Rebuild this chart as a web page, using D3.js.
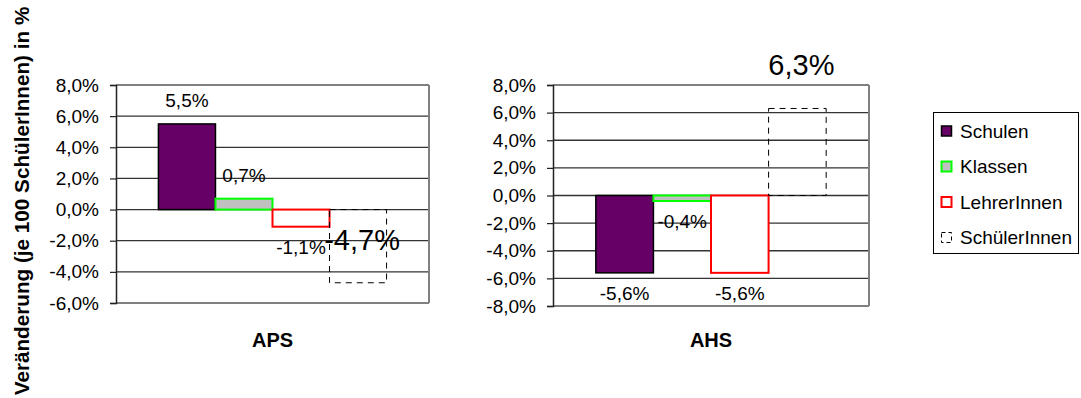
<!DOCTYPE html>
<html><head><meta charset="utf-8">
<script src="https://cdn.jsdelivr.net/npm/d3@7/dist/d3.min.js"></script>
<style>
body{margin:0;background:#fff;}
svg{display:block;font-family:"Liberation Sans",Arial,sans-serif;}
</style></head>
<body><svg id="c" width="1081" height="398"></svg>
<script>
const categories = ["APS", "AHS"];
const series = ["Schulen", "Klassen", "LehrerInnen", "SchülerInnen"];
const apsValues = [5.5, 0.7, -1.1, -4.7];
const ahsValues = [-5.6, -0.4, -5.6, 6.3];
const apsTicks = [-6, -4, -2, 0, 2, 4, 6, 8];
const ahsTicks = [-8, -6, -4, -2, 0, 2, 4, 6, 8];
const yTitle = "Veränderung (je 100 SchülerInnen) in %";

const styles = [
  {fill: "#660066", stroke: "#000", sw: 1.5, dash: null},
  {fill: "#c0c0c0", stroke: "#00ff00", sw: 2, dash: null},
  {fill: "#ffffff", stroke: "#ff0000", sw: 2, dash: null},
  {fill: "none", stroke: "#000", sw: 1, dash: "6,5"}
];

const loc = d3.formatLocale({decimal: ",", thousands: ".", grouping: [3], currency: ["", "€"], minus: "-"});
const f1 = loc.format(".1f");
const pct = v => f1(v) + "%";

const svg = d3.select("#c");

function panel(cfg) {
  const {x0, x1, y0, y1, domain, ticks, values, cat} = cfg;
  const g = svg.append("g");
  const y = d3.scaleLinear().domain(domain).range([y1, y0]);
  const band = d3.scaleBand().domain([cat]).range([x0, x1]).paddingOuter(0.186).paddingInner(0);
  const xs = d3.scaleBand().domain(series).range([band(cat), band(cat) + band.bandwidth()]).padding(0);

  // gridlines
  g.selectAll("line.grid").data(ticks).join("line")
    .attr("x1", x0).attr("x2", x1)
    .attr("y1", d => y(d)).attr("y2", d => y(d))
    .attr("stroke", d => (d === domain[0] || d === domain[1]) ? "#808080" : "#333")
    .attr("stroke-width", d => (d === domain[0] || d === domain[1]) ? 2 : 1.3);
  // right border
  g.append("line").attr("x1", x1).attr("x2", x1).attr("y1", y0).attr("y2", y1)
    .attr("stroke", "#808080").attr("stroke-width", 2);

  // bars
  g.selectAll("rect.bar").data(values).join("rect")
    .attr("x", (d, i) => xs(series[i]))
    .attr("width", xs.bandwidth())
    .attr("y", d => Math.min(y(d), y(0)))
    .attr("height", d => Math.abs(y(d) - y(0)))
    .attr("fill", (d, i) => styles[i].fill)
    .attr("stroke", (d, i) => styles[i].stroke)
    .attr("stroke-width", (d, i) => styles[i].sw)
    .attr("stroke-dasharray", (d, i) => styles[i].dash);

  // axis
  const ax = d3.axisLeft(y).tickValues(ticks).tickFormat(pct).tickSize(6).tickPadding(11);
  const axg = g.append("g").attr("transform", `translate(${x0},0)`).call(ax);
  axg.select(".domain").attr("stroke", "#222").attr("stroke-width", 1.5);
  axg.selectAll(".tick line").attr("stroke", "#222").attr("stroke-width", 1.2);
  axg.selectAll(".tick text").attr("font-size", 19).attr("fill", "#000")
    .attr("font-family", "'Liberation Sans', Arial, sans-serif");

  // data labels
  g.selectAll("text.lbl").data(values).join("text")
    .attr("text-anchor", "middle")
    .attr("x", (d, i) => xs(series[i]) + xs.bandwidth() / 2 + (i === 3 ? 4 : 0))
    .attr("y", (d, i) => i === 3 ? y(d) - 33 : (d >= 0 ? y(d) - 17 : y(d) + 27))
    .attr("font-size", (d, i) => i === 3 ? 29 : 19)
    .attr("fill", "#000")
    .text(d => pct(d));

  // category label
  g.append("text").attr("x", band(cat) + band.bandwidth() / 2).attr("y", 347)
    .attr("text-anchor", "middle").attr("font-size", 20).attr("font-weight", "bold").text(cat);
}

panel({x0: 116, x1: 429, y0: 85, y1: 303, domain: [-6, 8], ticks: apsTicks, values: apsValues, cat: categories[0]});
panel({x0: 553, x1: 869, y0: 85, y1: 306, domain: [-8, 8], ticks: ahsTicks, values: ahsValues, cat: categories[1]});

// y title
svg.append("text").attr("transform", "translate(29,201) rotate(-90)")
  .attr("text-anchor", "middle").attr("font-size", 20.7).attr("font-weight", "bold").text(yTitle);

// legend
const lg = svg.append("g");
lg.append("rect").attr("x", 933.5).attr("y", 112.5).attr("width", 145).attr("height", 141)
  .attr("fill", "#fff").attr("stroke", "#000").attr("stroke-width", 1);
series.forEach((s, i) => {
  const cy = 131 + i * 35.5;
  const st = styles[i];
  lg.append("rect").attr("x", 941.5).attr("y", cy - 5).attr("width", 10).attr("height", 10)
    .attr("fill", st.fill === "none" ? "#fff" : st.fill).attr("stroke", st.stroke)
    .attr("stroke-width", st.sw).attr("stroke-dasharray", i === 3 ? "4,3" : null);
  lg.append("text").attr("x", 960).attr("y", cy + 6.5).attr("font-size", 19).text(s);
});
</script></body></html>
